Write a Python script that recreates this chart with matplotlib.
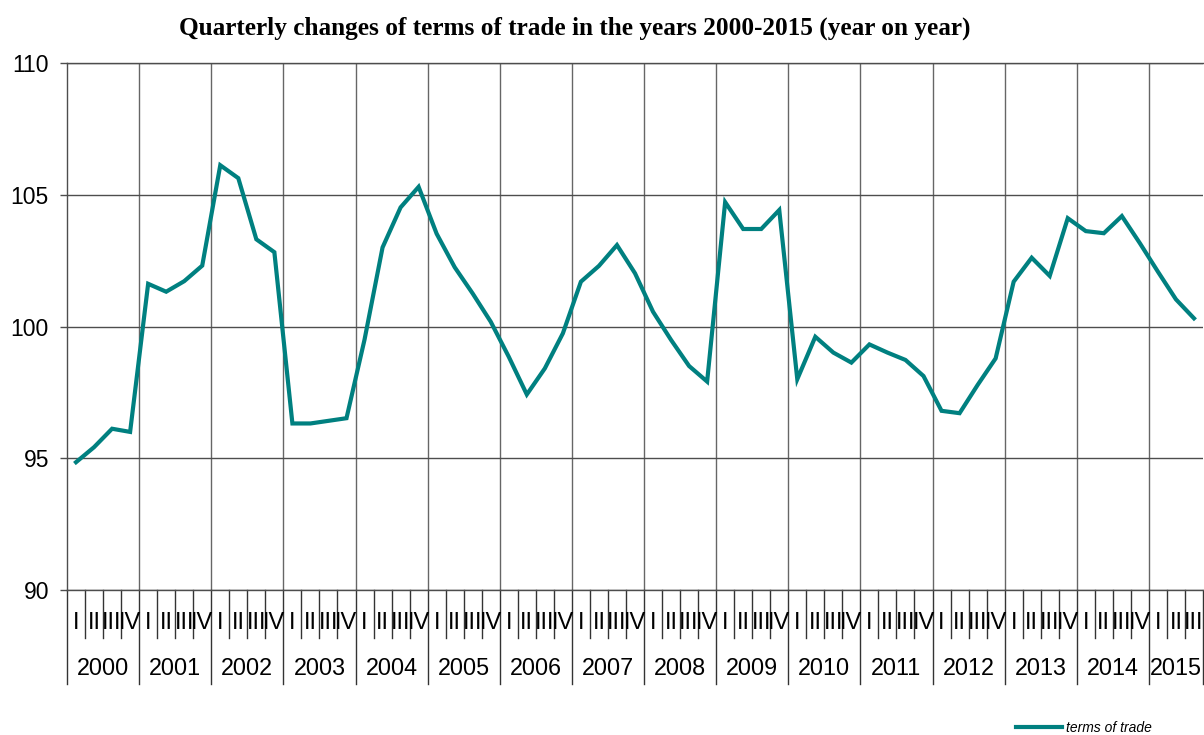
import matplotlib
matplotlib.use("Agg")
import matplotlib.pyplot as plt
import numpy as np

# Terms of trade, year on year, quarterly 2000 Q1 - 2015 Q3
years = [str(y) for y in range(2000, 2016)]
quarter_names = ["I", "II", "III", "IV"]
terms_of_trade = [
    94.85, 95.42, 96.12, 96.00,     # 2000
    101.62, 101.32, 101.72, 102.31,  # 2001
    106.12, 105.63, 103.31, 102.82,  # 2002
    96.32, 96.32, 96.42, 96.52,      # 2003
    99.50, 103.00, 104.52, 105.30,   # 2004
    103.52, 102.25, 101.25, 100.18,  # 2005
    98.85, 97.42, 98.41, 99.74,      # 2006
    101.70, 102.30, 103.09, 102.02,  # 2007
    100.56, 99.49, 98.50, 97.91,     # 2008
    104.72, 103.70, 103.70, 104.42,  # 2009
    98.00, 99.61, 99.01, 98.63,      # 2010
    99.32, 99.01, 98.73, 98.12,      # 2011
    96.80, 96.71, 97.78, 98.79,      # 2012
    101.70, 102.61, 101.92, 104.11,  # 2013
    103.62, 103.54, 104.19, 103.16,  # 2014
    102.08, 101.03, 100.31,          # 2015
]

n = len(terms_of_trade)
x = np.arange(n)
teal = "#008080"
grid_col = "#4d4d4d"

plt.rcParams["font.family"] = ["Liberation Sans", "DejaVu Sans"]

fig = plt.figure(figsize=(12.04, 7.35), dpi=100)
ax = fig.add_axes([67 / 1204, 145 / 735, 1136 / 1204, 527 / 735])

ax.plot(x, terms_of_trade, color=teal, lw=3, solid_joinstyle="miter", zorder=3,
        label="terms of trade")

ax.set_xlim(-0.5, n - 0.5)
ax.set_ylim(90, 110)
ax.set_yticks([90, 95, 100, 105, 110])
ax.tick_params(axis="y", length=5, width=1, color=grid_col, pad=8, labelsize=16.5)
ax.set_xticks([])
ax.yaxis.grid(True, color=grid_col, lw=1)

# year gridlines inside the plot
year_bounds = np.arange(0, n + 1, 4) - 0.5
for b in year_bounds[1:]:
    ax.axvline(b, color="#666666", lw=1, zorder=1)

ax.spines["right"].set_visible(False)
for s in ["left", "bottom", "top"]:
    ax.spines[s].set_color(grid_col)
    ax.spines[s].set_linewidth(1)

# multi-level category axis below
trans = ax.get_xaxis_transform()
qtick = 48 / 527
ytick = 94 / 527
for k in range(n + 1):
    b = k - 0.5
    low = ytick if (k % 4 == 0 or k == n) else qtick
    ax.plot([b, b], [0, -low], transform=trans, color="#333333", lw=1, clip_on=False)

for i in range(n):
    ax.text(i, -33 / 527, quarter_names[i % 4], transform=trans, ha="center",
            va="center", fontsize=17)

for j, yr in enumerate(years):
    q = x[j * 4:(j + 1) * 4]
    ax.text(q.mean(), -78.5 / 527, yr, transform=trans, ha="center", va="center",
            fontsize=16.8)

fig.text(574.5 / 1204, 1 - 28 / 735,
         "Quarterly changes of terms of trade in the years 2000-2015 (year on year)",
         ha="center", va="center", fontsize=18.2, fontweight="bold",
         family=["Liberation Serif", "DejaVu Serif"])

leg = fig.legend(loc="center", bbox_to_anchor=(1084 / 1204, 1 - 728 / 735),
                 frameon=False, prop={"size": 10, "style": "italic"},
                 handlelength=3.3, handletextpad=0.3)

fig.savefig("out.png", dpi=100)
